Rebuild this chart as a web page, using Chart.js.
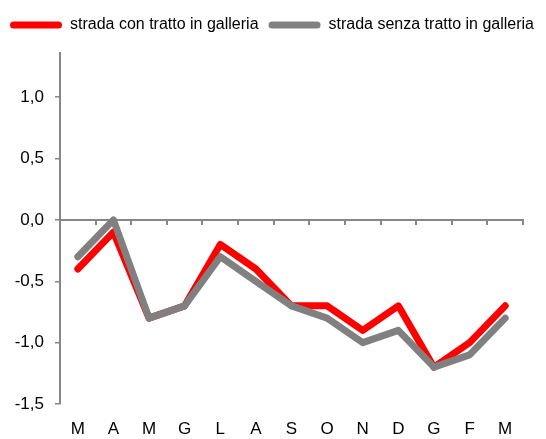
<!DOCTYPE html>
<html>
<head>
<meta charset="utf-8">
<script src="https://cdn.jsdelivr.net/npm/chart.js@4.4.1/dist/chart.umd.min.js"></script>
<style>
  html, body { margin: 0; padding: 0; background: #fff; }
  #wrap { width: 546px; height: 439px; position: relative; }
</style>
</head>
<body>
<div id="wrap"><canvas id="chart"></canvas></div>
<script>
// Mesi (da marzo a marzo)
const months = ['M', 'A', 'M', 'G', 'L', 'A', 'S', 'O', 'N', 'D', 'G', 'F', 'M'];

// Valori
const conGalleria   = [-0.4, -0.1, -0.8, -0.7, -0.2, -0.4, -0.7, -0.7, -0.9, -0.7, -1.2, -1.0, -0.7];
const senzaGalleria = [-0.3,  0.0, -0.8, -0.7, -0.3, -0.5, -0.7, -0.8, -1.0, -0.9, -1.2, -1.1, -0.8];

// Tacche asse Y
const yTicks = [-1.5, -1.0, -0.5, 0.0, 0.5, 1.0];

const RED  = '#ff0000';
const GREY = '#808080';
const AXIS = '#878787';
const FONT = "'Liberation Sans', Arial, sans-serif";

const fmt = v => v.toFixed(1).replace('.', ',');

new Chart(document.getElementById('chart'), {
    type: 'line',
    data: {
        labels: months,
        datasets: [
            {
                label: 'strada con tratto in galleria',
                data: conGalleria,
                borderColor: RED,
                backgroundColor: RED,
                borderWidth: 7,
                borderCapStyle: 'round',
                borderJoinStyle: 'round',
                pointRadius: 0,
                tension: 0,
                order: 1
            },
            {
                label: 'strada senza tratto in galleria',
                data: senzaGalleria,
                borderColor: GREY,
                backgroundColor: GREY,
                borderWidth: 7,
                borderCapStyle: 'round',
                borderJoinStyle: 'round',
                pointRadius: 0,
                tension: 0,
                order: 0
            }
        ]
    },
    options: {
        responsive: true,
        maintainAspectRatio: false,
        animation: false,
        layout: { padding: { top: 7, right: 0, bottom: 0, left: 0 } },
        plugins: {
            tooltip: { enabled: false },
            legend: {
                position: 'top',
                align: 'start',
                labels: {
                    color: '#000',
                    font: { family: FONT, size: 16 },
                    boxWidth: 52,
                    boxHeight: 7,
                    padding: 10,
                    useBorderRadius: true,
                    borderRadius: 3.5,
                    sort: (a, b) => a.datasetIndex - b.datasetIndex,
                    generateLabels(chart) {
                        return chart.data.datasets.map((ds, i) => ({
                            text: ds.label,
                            fillStyle: ds.borderColor,
                            strokeStyle: ds.borderColor,
                            lineWidth: 0,
                            fontColor: '#000',
                            borderRadius: 3.5,
                            datasetIndex: i
                        }));
                    }
                }
            }
        },
        scales: {
            // asse delle categorie sullo zero (solo linea e tacche)
            x: {
                type: 'category',
                position: { y: 0 },
                offset: true,
                grid: {
                    offset: true,
                    drawOnChartArea: false,
                    drawTicks: true,
                    tickLength: 4,
                    color: AXIS,
                    lineWidth: 2
                },
                border: { display: true, color: AXIS, width: 2 },
                ticks: { display: false },
                afterFit: scale => { scale.height = 0; }
            },
            // etichette dei mesi in basso
            x2: {
                type: 'category',
                position: 'bottom',
                offset: true,
                grid: { display: false, drawTicks: false },
                border: { display: false },
                ticks: {
                    color: '#000',
                    font: { family: FONT, size: 17 },
                    padding: 15,
                    maxRotation: 0,
                    autoSkip: false
                },
                afterFit: scale => { scale.height = 35; }
            },
            // spazio vuoto tra legenda e grafico
            xTop: {
                type: 'category',
                position: 'top',
                grid: { display: false },
                border: { display: false },
                ticks: { display: false },
                afterFit: scale => { scale.height = 10; }
            },
            y: {
                min: -1.5,
                max: 1.36,
                afterBuildTicks: scale => { scale.ticks = yTicks.map(v => ({ value: v })); },
                afterFit: scale => { scale.width = 60; },
                grid: {
                    drawOnChartArea: false,
                    drawTicks: true,
                    tickLength: 5,
                    color: AXIS,
                    lineWidth: 1.5
                },
                border: { display: true, color: AXIS, width: 2 },
                ticks: {
                    color: '#000',
                    font: { family: FONT, size: 17 },
                    padding: 11,
                    callback: v => fmt(v)
                }
            },
            // margine destro vuoto
            yPad: {
                type: 'linear',
                position: 'right',
                grid: { display: false },
                border: { display: false },
                ticks: { display: false },
                afterFit: scale => { scale.width = 23; }
            }
        }
    }
});
</script>
</body>
</html>
